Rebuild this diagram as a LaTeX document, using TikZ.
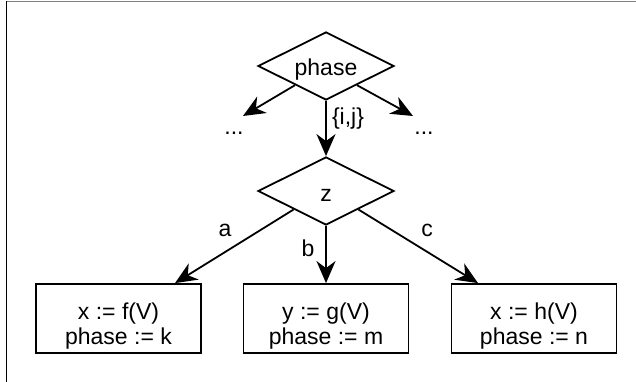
\documentclass[tikz,border=0pt]{standalone}
\usepackage{fontspec}
\setmainfont{Liberation Sans}
\usetikzlibrary{shapes.geometric,arrows.meta,calc}
\begin{document}
\begin{tikzpicture}[x=1pt,y=-1pt,
  every node/.style={font=\fontsize{23}{25}\selectfont},
  dec/.style={draw, line width=1.8pt, shape=diamond, shape aspect=2, inner sep=0pt,
    minimum width=136pt, minimum height=68pt, text height=24pt, text depth=4pt},
  act/.style={draw, line width=1.8pt, rectangle, inner sep=0pt,
    minimum width=165pt, minimum height=69pt, align=center, text height=56pt, text depth=5pt},
  conn/.style={line width=1.8pt, -{Stealth[length=22pt,width=19pt,inset=7pt]}},
  lbl/.style={anchor=base, inner sep=0pt}]
\useasboundingbox (0,0) rectangle (636,382);
% frame
\draw[gray, line width=1pt] (6.5,1.5) -- (636,1.5);
\draw[black, line width=1pt] (6.5,1) -- (6.5,382);
% nodes
\node[dec] (phase) at (326,66) {phase};
\node[dec] (z) at (326,191) {z};
\node[act] (b1) at (118.5,318.5) {x := f(V)\\phase := k};
\node[act] (b2) at (326,318.5) {y := g(V)\\phase := m};
\node[act] (b3) at (534,318.5) {x := h(V)\\phase := n};
\coordinate (dl) at (243,116);
\coordinate (dr) at (413,116);
\node[lbl] (dotsl) at (234,135) {...};
\node[lbl] (dotsr) at (424,135) {...};
\node[lbl] (lij) at (348,125) {\{i,j\}};
\node[lbl] (la) at (225,236.5) {a};
\node[lbl] (lb) at (308,256.5) {b};
\node[lbl] (lc) at (427,236) {c};
% connectors
\draw[conn] ($(phase.west)!0.55!(phase.south)$) -- (dl);
\draw[conn] ($(phase.east)!0.55!(phase.south)$) -- (dr);
\draw[conn] (phase.south) -- (z.north);
\draw[conn] ($(z.west)!0.53!(z.south)$) -- ($(b1.north)+(56.5,0)$);
\draw[conn] (z.south) -- (b2.north);
\draw[conn] ($(z.east)!0.53!(z.south)$) -- ($(b3.north)+(-56,0)$);
\end{tikzpicture}
\end{document}
